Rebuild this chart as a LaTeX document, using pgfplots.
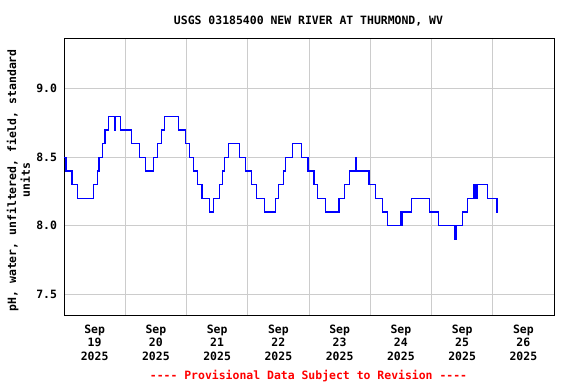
\documentclass[border=0pt]{standalone}
\usepackage{pgfplots}
\pgfplotsset{compat=1.18}
\usepackage{fontspec}
\setmainfont{DejaVu Sans Mono}
\newcommand\f{\fontsize{11.5}{13.6}\selectfont\bfseries}
\definecolor{gridgray}{RGB}{204,204,204}
\definecolor{provred}{RGB}{255,0,0}
\definecolor{lineblue}{RGB}{0,0,255}
\begin{document}
\begin{tikzpicture}
\useasboundingbox (0,0) rectangle (576bp,384bp);
\begin{axis}[
  at={(64bp,68bp)}, anchor=south west,
  width=490bp, height=277bp, scale only axis,
  xmin=0, xmax=8, ymin=7.341, ymax=9.364,
  xtick={0.5,1.5,2.5,3.5,4.5,5.5,6.5,7.5},
  xticklabels={Sep\\19\\2025,Sep\\20\\2025,Sep\\21\\2025,Sep\\22\\2025,Sep\\23\\2025,Sep\\24\\2025,Sep\\25\\2025,Sep\\26\\2025},
  minor xtick={1,2,3,4,5,6,7},
  xminorgrids, xmajorgrids=false,
  ytick={7.5,8,8.5,9}, yticklabels={7.5,8.0,8.5,9.0},
  ymajorgrids,
  grid style={gridgray, line width=1bp},
  minor grid style={gridgray, line width=1bp},
  major tick length=0pt, minor tick length=0pt,
  axis line style={black, line width=1bp},
  tick style={draw=none},
  xticklabel style={font=\f, align=center, anchor=north, yshift=-5bp},
  yticklabel style={font=\f, anchor=east, xshift=-3.5bp},
  ylabel={pH, water, unfiltered, field, standard\\units},
  ylabel style={font=\f, align=center, at={(axis description cs:-0.093,0.49)}, anchor=center},
  /pgf/number format/assume math mode=true,
  clip=true,
]
\addplot[const plot, draw=lineblue, line width=1.2bp, mark=none] coordinates {
(0.000,8.5)
(0.033,8.4)
(0.130,8.3)
(0.225,8.2)
(0.480,8.3)
(0.550,8.4)
(0.573,8.5)
(0.627,8.6)
(0.671,8.7)
(0.726,8.8)
(0.824,8.7)
(0.840,8.8)
(0.927,8.7)
(1.097,8.6)
(1.233,8.5)
(1.331,8.4)
(1.462,8.5)
(1.530,8.6)
(1.590,8.7)
(1.637,8.8)
(1.871,8.7)
(1.980,8.6)
(2.051,8.5)
(2.115,8.4)
(2.182,8.3)
(2.253,8.2)
(2.379,8.1)
(2.444,8.2)
(2.540,8.3)
(2.590,8.4)
(2.624,8.5)
(2.680,8.6)
(2.860,8.5)
(2.963,8.4)
(3.055,8.3)
(3.137,8.2)
(3.279,8.1)
(3.454,8.2)
(3.508,8.3)
(3.579,8.4)
(3.617,8.5)
(3.726,8.6)
(3.879,8.5)
(3.983,8.4)
(4.081,8.3)
(4.135,8.2)
(4.271,8.1)
(4.490,8.2)
(4.583,8.3)
(4.665,8.4)
(4.763,8.5)
(4.779,8.4)
(4.981,8.3)
(5.090,8.2)
(5.205,8.1)
(5.287,8.0)
(5.500,8.1)
(5.510,8.0)
(5.527,8.1)
(5.674,8.2)
(5.963,8.1)
(6.115,8.0)
(6.383,7.9)
(6.405,8.0)
(6.508,8.1)
(6.590,8.2)
(6.683,8.3)
(6.700,8.2)
(6.720,8.3)
(6.735,8.2)
(6.754,8.3)
(6.920,8.2)
(7.070,8.1)
(7.092,8.1)
};
\end{axis}
\node[font=\f, anchor=base] at (308.5bp,359bp) {USGS 03185400 NEW RIVER AT THURMOND, WV};
\node[font=\f, anchor=base, text=provred] at (308.5bp,5bp) {-{}-{}-{}- Provisional Data Subject to Revision -{}-{}-{}-};
\end{tikzpicture}
\end{document}
